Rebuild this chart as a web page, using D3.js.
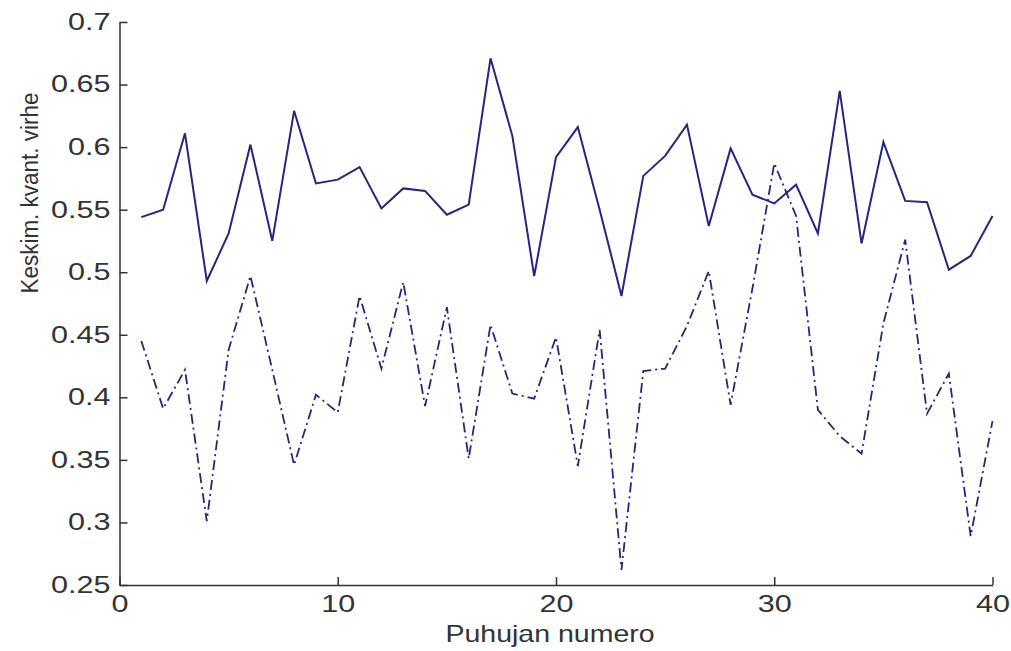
<!DOCTYPE html>
<html>
<head>
<meta charset="utf-8">
<script src="https://cdn.jsdelivr.net/npm/d3@7"></script>
<style>
  body { margin: 0; background: #fff; }
  svg { display: block; }
  .axis path, .axis line { stroke: #333; stroke-width: 1.5; }
  .axis text { font-family: 'Liberation Sans', Arial, sans-serif; font-size: 23px; fill: #333; }
  .label { font-family: 'Liberation Sans', Arial, sans-serif; fill: #333; }
</style>
</head>
<body>
<div id="container"></div>
<script>
// puhujan numero 1..40
var speakers = d3.range(1, 41)

// upper (solid) curve
var solidValues = [
  0.544, 0.550, 0.611, 0.493, 0.531, 0.602, 0.525, 0.629, 0.571, 0.574,
  0.584, 0.551, 0.567, 0.565, 0.546, 0.554, 0.671, 0.609, 0.497, 0.592,
  0.616, 0.550, 0.481, 0.577, 0.593, 0.618, 0.537, 0.599, 0.562, 0.555,
  0.570, 0.531, 0.645, 0.523, 0.604, 0.557, 0.556, 0.502, 0.513, 0.545
]

// lower (dash-dot) curve
var dashedValues = [
  0.445, 0.391, 0.422, 0.301, 0.438, 0.497, 0.422, 0.346, 0.402, 0.388,
  0.481, 0.423, 0.492, 0.393, 0.472, 0.351, 0.458, 0.403, 0.399, 0.448,
  0.345, 0.454, 0.262, 0.421, 0.423, 0.457, 0.501, 0.394, 0.487, 0.587,
  0.545, 0.390, 0.369, 0.355, 0.459, 0.526, 0.387, 0.419, 0.289, 0.381
]

var xTicks = [0, 10, 20, 30, 40]
var yTicks = [0.25, 0.3, 0.35, 0.4, 0.45, 0.5, 0.55, 0.6, 0.65, 0.7]
var yTickLabels = ['0.25', '0.3', '0.35', '0.4', '0.45', '0.5', '0.55', '0.6', '0.65', '0.7']

var xLabel = 'Puhujan numero'
var yLabel = 'Keskim. kvant. virhe'

var width = 1011
var height = 651
var lineColour = '#26267e'

var svg = d3.select('#container').append('svg')
  .attr('width', width)
  .attr('height', height)

var x = d3.scaleLinear().domain([0, 40]).range([119.5, 992.5])
var y = d3.scaleLinear().domain([0.25, 0.7]).range([585, 22])

// axes: only left and bottom, ticks pointing inwards
var xAxis = svg.append('g')
  .attr('class', 'axis')
  .attr('transform', 'translate(0,585)')
  .call(d3.axisBottom(x).tickValues(xTicks).tickSize(-8).tickSizeOuter(0).tickPadding(11))

xAxis.selectAll('text')
  .attr('transform', 'scale(1.33,1)')

var yAxis = svg.append('g')
  .attr('class', 'axis')
  .attr('transform', 'translate(119.5,0)')
  .call(d3.axisLeft(y).tickValues(yTicks).tickSize(-8).tickSizeOuter(0)
    .tickFormat(function (d, i) { return yTickLabels[i] }))

yAxis.selectAll('text')
  .attr('x', null)
  .attr('transform', 'translate(-9,0) scale(1.33,1)')

var line = d3.line()
  .x(function (d) { return x(d[0]) })
  .y(function (d) { return y(d[1]) })

svg.append('path')
  .datum(d3.zip(speakers, solidValues))
  .attr('d', line)
  .attr('fill', 'none')
  .attr('stroke', lineColour)
  .attr('stroke-width', 2)
  .attr('stroke-linejoin', 'miter')

svg.append('path')
  .datum(d3.zip(speakers, dashedValues))
  .attr('d', line)
  .attr('fill', 'none')
  .attr('stroke', lineColour)
  .attr('stroke-width', 1.8)
  .attr('stroke-dasharray', '10,4,2,4')

svg.append('text')
  .attr('class', 'label')
  .attr('transform', 'translate(550,642) scale(1.24,1)')
  .attr('text-anchor', 'middle')
  .style('font-size', '23px')
  .text(xLabel)

svg.append('text')
  .attr('class', 'label')
  .attr('transform', 'translate(38,193) rotate(-90) scale(1,1.1)')
  .attr('text-anchor', 'middle')
  .style('font-size', '22.5px')
  .text(yLabel)
</script>
</body>
</html>
